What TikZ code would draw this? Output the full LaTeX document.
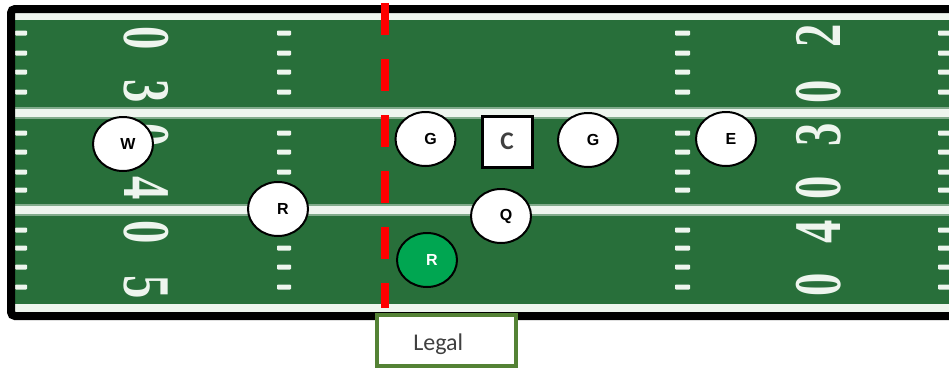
\documentclass[tikz,border=0pt]{standalone}
\usepackage{fontspec}
\setmainfont{Liberation Sans}
\newfontfamily\calibrifont{Carlito}
\newfontfamily\fieldfont{Liberation Serif}
\usetikzlibrary{shapes.geometric}

\definecolor{turf}{RGB}{40,111,58}
\definecolor{chalk}{RGB}{238,245,238}
\definecolor{scrimred}{RGB}{255,0,0}
\definecolor{legalgreen}{RGB}{84,130,53}
\definecolor{labelgray}{RGB}{64,64,64}
\definecolor{backgreen}{RGB}{0,166,81}

\tikzset{
  player/.style={ellipse, draw=black, line width=1.5pt, fill=white,
    minimum width=45pt, minimum height=40.5pt, inner sep=0pt,
    font=\fontsize{12}{12}\selectfont\bfseries},
  centerbox/.style={rectangle, draw=black, line width=2.25pt, fill=white,
    minimum width=37.5pt, minimum height=38.25pt, inner sep=0pt,
    text=labelgray, font=\calibrifont\fontsize{19}{19}\selectfont\bfseries},
  yardnum/.style={inner sep=0pt, text=chalk,
    font=\fieldfont\fontsize{50}{50}\selectfont\bfseries},
  legalbox/.style={rectangle, draw=legalgreen, line width=3pt, fill=white,
    minimum width=104.25pt, minimum height=38.25pt, inner sep=0pt},
  legaltext/.style={inner sep=0pt, text=labelgray,
    font=\calibrifont\fontsize{18}{18}\selectfont},
  hashmark/.style={fill=chalk, rounded corners=0.6pt},
  scrimmage/.style={draw=scrimred, line width=6pt, dash pattern=on 24pt off 18pt}
}

\newcommand{\fielddigit}[1]{\scalebox{0.7}[1]{#1}}

\begin{document}
\begin{tikzpicture}[x=0.75pt, y=-0.75pt]
\useasboundingbox (0,0) rectangle (949,368);
\fill[white] (0,0) rectangle (949,368);

\begin{scope}
  \clip (0,0) rectangle (949,368);

  % playing surface
  \fill[turf] (15,13) rectangle (960,312);

  % yard lines (soft edge, then core)
  \foreach \y in {113,210} {
    \draw[chalk, opacity=0.45, line width=9pt] (15,\y) -- (960,\y);
    \draw[chalk, line width=6.5pt] (15,\y) -- (960,\y);
  }
  \draw[chalk, line width=5.5pt] (15,16.5) -- (960,16.5);
  \draw[chalk, line width=6pt] (15,308) -- (960,308);

  % hash marks
  \foreach \x/\w in {15/12, 277/14, 675/15, 938/15} {
    \foreach \y in {33,53,72,92,133,152,172,190,230,248,267,287} {
      \fill[hashmark] (\x,\y-2.5) rectangle (\x+\w,\y+2.5);
    }
  }

  % yard numbers, left sideline
  \foreach \d/\y [count=\i] in {0/38.5, 3/91.5, 0/135, 4/188.5, 0/232, 5/287} {
    \node[yardnum, rotate=-90] (lnum\i) at (146,\y) {\fielddigit{\d}};
  }
  % yard numbers, right sideline
  \foreach \d/\y [count=\i] in {2/36, 0/92, 3/134.5, 0/188, 4/232, 0/285} {
    \node[yardnum, rotate=90] (rnum\i) at (818.5,\y) {\fielddigit{\d}};
  }

  % outer frame
  \draw[black, line width=6pt, rounded corners=3pt] (11,9) rectangle (1000,316);
\end{scope}

% line of scrimmage
\coordinate (scrimtop) at (385,3);
\coordinate (scrimbot) at (385,308);
\draw[scrimmage] (scrimtop) -- (scrimbot);

% offensive players
\node[player] (w)  at (123,144)   {\hspace*{7.5pt}W};
\node[player] (r1) at (278,209)   {\hspace*{7.5pt}R};
\node[player] (g1) at (425.5,139) {\hspace*{7.5pt}G};
\node[centerbox] (c) at (507,141.5) {C};
\node[player] (g2) at (588,140)   {\hspace*{7.5pt}G};
\node[player] (e)  at (726,139)   {\hspace*{7.5pt}E};
\node[player] (q)  at (501,216)   {\hspace*{7.5pt}Q};
\node[player, fill=backgreen, text=white] (r2) at (427,260) {\hspace*{7.5pt}R};

% caption box
\node[legalbox] (legal) at (446.5,340.5) {};
\node[legaltext, anchor=base west] (legallabel) at (413,350) {Legal};
\end{tikzpicture}
\end{document}
